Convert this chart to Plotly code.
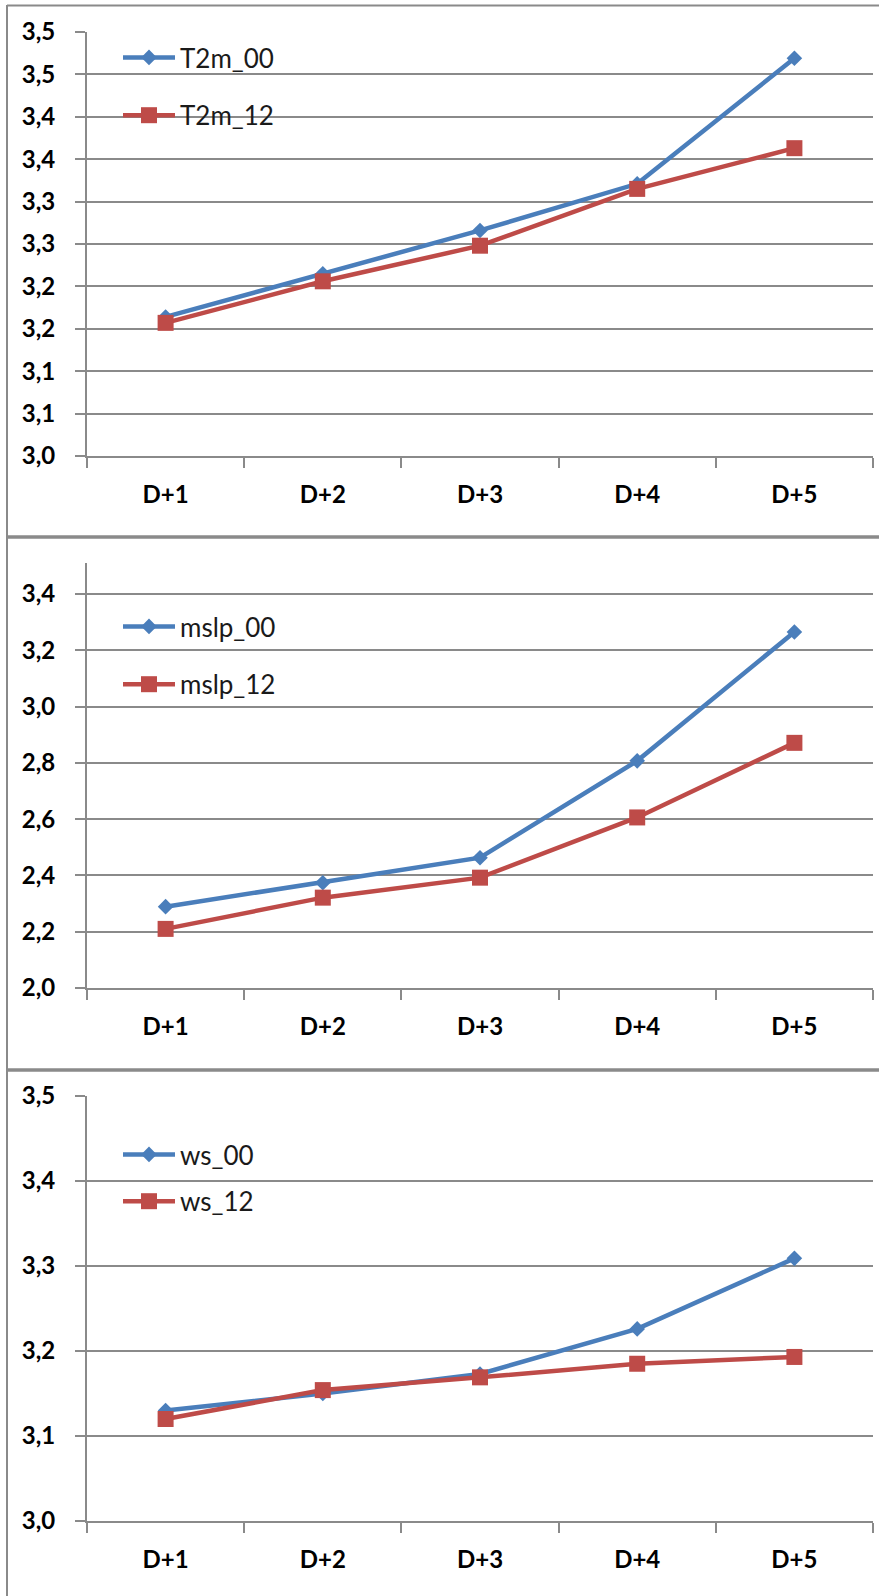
import plotly.graph_objects as go

# Forecast lead days shared by all three panels
days = ["D+1", "D+2", "D+3", "D+4", "D+5"]

# 2 m temperature scores
t2m_00 = [3.164, 3.215, 3.266, 3.321, 3.469]
t2m_12 = [3.157, 3.206, 3.248, 3.315, 3.363]

# Mean sea level pressure scores
mslp_00 = [2.289, 2.374, 2.463, 2.807, 3.265]
mslp_12 = [2.210, 2.321, 2.392, 2.606, 2.871]

# Wind speed scores
ws_00 = [3.130, 3.150, 3.173, 3.226, 3.309]
ws_12 = [3.120, 3.154, 3.169, 3.185, 3.193]

# Y-axis ticks (comma decimal, one digit)
t2m_tickvals = [3.00, 3.05, 3.10, 3.15, 3.20, 3.25, 3.30, 3.35, 3.40, 3.45, 3.50]
t2m_ticktext = ["3,0", "3,1", "3,1", "3,2", "3,2", "3,3", "3,3", "3,4", "3,4", "3,5", "3,5"]
mslp_tickvals = [2.0, 2.2, 2.4, 2.6, 2.8, 3.0, 3.2, 3.4]
mslp_ticktext = ["2,0", "2,2", "2,4", "2,6", "2,8", "3,0", "3,2", "3,4"]
ws_tickvals = [3.0, 3.1, 3.2, 3.3, 3.4, 3.5]
ws_ticktext = ["3,0", "3,1", "3,2", "3,3", "3,4", "3,5"]

W, H = 879, 1596
BLUE = "#4a7ebb"
RED = "#be4b48"
GRAY = "#8a8a8a"
FONT = "Lato"


def py(px):
    """Convert a pixel row (from top) to paper y."""
    return 1 - px / H


def px_x(px):
    return px / W


fig = go.Figure()

panels = [
    # (series00, series12, names, y range, tickvals, ticktext, top px, bottom px, legend id, legend y px, gap)
    (t2m_00, t2m_12, ("T2m_00", "T2m_12"), [3.0, 3.5], t2m_tickvals, t2m_ticktext, 32, 456, "legend", 34, 21),
    (mslp_00, mslp_12, ("mslp_00", "mslp_12"), [2.0, 3.51], mslp_tickvals, mslp_ticktext, 563, 988, "legend2", 603, 21),
    (ws_00, ws_12, ("ws_00", "ws_12"), [3.0, 3.5], ws_tickvals, ws_ticktext, 1096, 1521, "legend3", 1131, 10),
]

layout_axes = {}
for i, (s00, s12, names, yrange, tv, tt, top, bottom, leg, leg_y, gap) in enumerate(panels, start=1):
    xa = "x" if i == 1 else f"x{i}"
    ya = "y" if i == 1 else f"y{i}"
    fig.add_trace(go.Scatter(
        x=days, y=s00, name=names[0], mode="lines+markers",
        line=dict(color=BLUE, width=4.5),
        marker=dict(symbol="diamond", size=12, color=BLUE),
        xaxis=xa, yaxis=ya, legend=leg, legendgroup=f"{leg}a",
    ))
    fig.add_trace(go.Scatter(
        x=days, y=s12, name=names[1], mode="lines+markers",
        line=dict(color=RED, width=4.5),
        marker=dict(symbol="square", size=16, color=RED),
        xaxis=xa, yaxis=ya, legend=leg, legendgroup=f"{leg}b",
    ))

    layout_axes["xaxis" if i == 1 else f"xaxis{i}"] = dict(
        type="category", categoryorder="array", categoryarray=days,
        range=[-0.5, 4.5], domain=[px_x(87), px_x(873)],
        anchor=ya, showgrid=False, zeroline=False, automargin=False,
        showline=True, linecolor=GRAY, linewidth=2,
        ticks="outside", tickson="boundaries", ticklen=10, tickwidth=2, tickcolor=GRAY,
        ticklabelstandoff=16,
        tickfont=dict(family=FONT, size=24, color="#000000", weight="bold"),
        fixedrange=True,
    )
    layout_axes["yaxis" if i == 1 else f"yaxis{i}"] = dict(
        range=yrange, domain=[py(bottom), py(top)], anchor=xa,
        tickmode="array", tickvals=tv, ticktext=tt,
        showgrid=True, gridcolor=GRAY, gridwidth=2, zeroline=False, automargin=False,
        showline=True, linecolor=GRAY, linewidth=2,
        ticks="outside", ticklen=10, tickwidth=2, tickcolor=GRAY,
        ticklabelstandoff=15,
        tickfont=dict(family=FONT, size=24, color="#000000", weight="bold"),
        fixedrange=True,
    )
    layout_axes[leg] = dict(
        x=px_x(118), y=py(leg_y), xanchor="left", yanchor="top",
        bgcolor="rgba(0,0,0,0)", borderwidth=0,
        font=dict(family=FONT, size=26, color="#1a1a1a"),
        tracegroupgap=gap, itemwidth=52,
    )

# Panel frames
frame = [
    dict(type="line", xref="paper", yref="paper", x0=px_x(7), x1=px_x(7), y0=py(5), y1=0,
         line=dict(color=GRAY, width=2)),
    dict(type="line", xref="paper", yref="paper", x0=px_x(7), x1=1, y0=py(5.5), y1=py(5.5),
         line=dict(color=GRAY, width=2)),
    dict(type="line", xref="paper", yref="paper", x0=px_x(7), x1=1, y0=py(537), y1=py(537),
         line=dict(color=GRAY, width=3.5)),
    dict(type="line", xref="paper", yref="paper", x0=px_x(7), x1=1, y0=py(1070), y1=py(1070),
         line=dict(color=GRAY, width=3.5)),
]

fig.update_layout(
    width=W, height=H,
    margin=dict(l=0, r=0, t=0, b=0, autoexpand=False),
    paper_bgcolor="white", plot_bgcolor="white",
    showlegend=True,
    shapes=frame,
    **layout_axes,
)

fig.write_html("out.html")
